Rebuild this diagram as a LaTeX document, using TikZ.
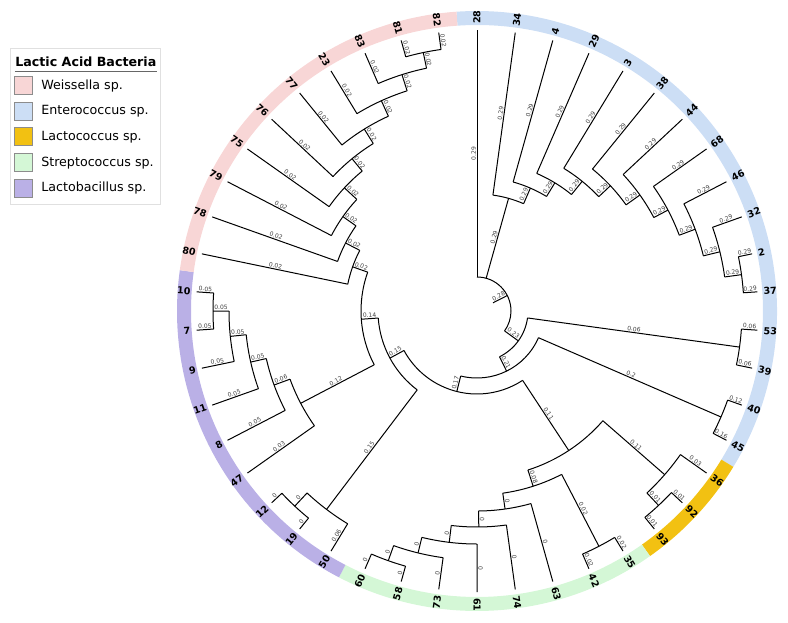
\documentclass[tikz,border=0pt]{standalone}
\usepackage{fontspec}
\setmainfont{DejaVu Sans}
\definecolor{wei}{RGB}{248,214,214}
\definecolor{ent}{RGB}{204,222,245}
\definecolor{lcc}{RGB}{242,193,18}
\definecolor{stc}{RGB}{212,247,214}
\definecolor{lba}{RGB}{186,176,230}
\tikzset{
  br/.style={line width=0.75pt, black},
  blab/.style={midway, sloped, above, font=\fontsize{4.5}{5}\selectfont, text=black!75, inner sep=0.5pt},
  leaf/.style={font=\fontsize{7.2}{8}\selectfont\bfseries, inner sep=0pt},
  legbox/.style={draw=black!45, line width=0.4pt, minimum size=13.5pt, inner sep=0pt},
  legtxt/.style={anchor=west, font=\fontsize{9.5}{11}\selectfont, inner sep=0pt}
}
\newcommand{\tbr}[4]{\draw[br] ({90-7.826*(#1)}:#2) -- node[blab]{#4} ({90-7.826*(#1)}:#3);}
\newcommand{\tarc}[3]{\draw[br] ({90-7.826*(#2)}:#1) arc[start angle={90-7.826*(#2)}, end angle={90-7.826*(#3)}, radius=#1];}
\newcommand{\tring}[3]{\fill[#1] ({90-7.826*(#2)}:286) arc[start angle={90-7.826*(#2)}, end angle={90-7.826*(#3)}, radius=286] -- ({90-7.826*(#3)}:300) arc[start angle={90-7.826*(#3)}, end angle={90-7.826*(#2)}, radius=300] -- cycle;}
\newcommand{\lfR}[2]{\node[leaf, anchor=west, rotate={90-7.826*(#1)}] (lf#2) at ({90-7.826*(#1)}:287) {#2};}
\newcommand{\lfL}[2]{\node[leaf, anchor=east, rotate={270-7.826*(#1)}] (lf#2) at ({90-7.826*(#1)}:287) {#2};}
\begin{document}
\begin{tikzpicture}[x=0.75pt, y=0.75pt]
\useasboundingbox (-477,-311) rectangle (311,311);
% ring
\tring{ent}{-0.5}{15.5}
\tring{lcc}{15.5}{18.5}
\tring{stc}{18.5}{26.5}
\tring{lba}{26.5}{35.5}
\tring{wei}{35.5}{45.5}
% root
\tbr{8.04}{18}{34}{0.28}
\tarc{34}{0}{16.08}
\tbr{0}{34}{281}{0.29}
% Enterococcus ladder
\tbr{2.0}{34}{117}{0.29}
\tarc{117}{1}{3.0}
\tbr{1}{117}{281}{0.29}
\tbr{3.0}{117}{134}{0.29}
\tarc{134}{2}{3.996}
\tbr{2}{134}{281}{0.29}
\tbr{3.996}{134}{150}{0.29}
\tarc{150}{3}{4.99}
\tbr{3}{150}{281}{0.29}
\tbr{4.99}{150}{167}{0.29}
\tarc{167}{4}{5.98}
\tbr{4}{167}{281}{0.29}
\tbr{5.98}{167}{183}{0.29}
\tarc{183}{5}{6.97}
\tbr{5}{183}{281}{0.29}
\tbr{6.97}{183}{200}{0.29}
\tarc{200}{6}{7.94}
\tbr{6}{200}{281}{0.29}
\tbr{7.94}{200}{216}{0.29}
\tarc{216}{7}{8.875}
\tbr{7}{216}{281}{0.29}
\tbr{8.875}{216}{233}{0.29}
\tarc{233}{8}{9.75}
\tbr{8}{233}{281}{0.29}
\tbr{9.75}{233}{250}{0.29}
\tarc{250}{9}{10.5}
\tbr{9}{250}{281}{0.29}
\tbr{10.5}{250}{267}{0.29}
\tarc{267}{10}{11}
\tbr{10}{267}{281}{0.29}
\tbr{11}{267}{281}{0.29}
% B
\tbr{16.08}{34}{51}{0.23}
\tarc{51}{12.5}{19.65}
\tbr{12.5}{51}{265}{0.06}
\tarc{265}{12}{13}
\tbr{12}{265}{281}{0.06}
\tbr{13}{265}{281}{0.06}
% C
\tbr{19.65}{51}{67}{0.21}
\tarc{67}{14.5}{24.8}
\tbr{14.5}{67}{266}{0.2}
\tarc{266}{14}{15}
\tbr{14}{266}{281}{0.12}
\tbr{15}{266}{281}{0.16}
% D
\tbr{24.8}{67}{83}{0.17}
\tarc{83}{18.74}{30.87}
% F
\tbr{18.74}{83}{167}{0.11}
\tarc{167}{16.75}{20.73}
\tbr{16.75}{167}{249}{0.11}
\tarc{249}{16}{17.5}
\tbr{16}{249}{281}{0.03}
\tbr{17.5}{249}{266}{0.01}
\tarc{266}{17}{18}
\tbr{17}{266}{281}{0.01}
\tbr{18}{266}{281}{0.01}
% S
\tbr{20.73}{167}{184}{0.08}
\tarc{184}{19.5}{21.97}
\tbr{19.5}{184}{265}{0.02}
\tarc{265}{19}{20}
\tbr{19}{265}{281}{0.02}
\tbr{20}{265}{281}{0.02}
\tbr{21.97}{184}{200}{0}
\tarc{200}{21}{22.94}
\tbr{21}{200}{281}{0}
\tbr{22.94}{200}{216}{0}
\tarc{216}{22}{23.875}
\tbr{22}{216}{281}{0}
\tbr{23.875}{216}{233}{0}
\tarc{233}{23}{24.75}
\tbr{23}{233}{281}{0}
\tbr{24.75}{233}{249}{0}
\tarc{249}{24}{25.5}
\tbr{24}{249}{281}{0}
\tbr{25.5}{249}{265}{0}
\tarc{265}{25}{26}
\tbr{25}{265}{281}{0}
\tbr{26}{265}{281}{0}
% G
\tbr{30.87}{83}{99}{0.15}
\tarc{99}{27.75}{33.98}
\tbr{27.75}{99}{249}{0.15}
\tarc{249}{27}{28.5}
\tbr{27}{249}{281}{0.06}
\tbr{28.5}{249}{267}{0}
\tarc{267}{28}{29}
\tbr{28}{267}{281}{0}
\tbr{29}{267}{281}{0}
% K
\tbr{33.98}{99}{116}{0.14}
\tarc{116}{30.97}{37.0}
% Lactobacillus
\tbr{30.97}{116}{199}{0.12}
\tarc{199}{30}{31.94}
\tbr{30}{199}{281}{0.03}
\tbr{31.94}{199}{216}{0.06}
\tarc{216}{31}{32.875}
\tbr{31}{216}{281}{0.05}
\tbr{32.875}{216}{232}{0.05}
\tarc{232}{32}{33.75}
\tbr{32}{232}{281}{0.05}
\tbr{33.75}{232}{248}{0.05}
\tarc{248}{33}{34.5}
\tbr{33}{248}{281}{0.05}
\tbr{34.5}{248}{264}{0.05}
\tarc{264}{34}{35}
\tbr{34}{264}{281}{0.05}
\tbr{35}{264}{281}{0.05}
% Weissella
\tbr{37.0}{116}{132}{0.02}
\tarc{132}{36}{37.996}
\tbr{36}{132}{281}{0.02}
\tbr{37.996}{132}{148}{0.02}
\tarc{148}{37}{38.99}
\tbr{37}{148}{281}{0.02}
\tbr{38.99}{148}{164}{0.02}
\tarc{164}{38}{39.98}
\tbr{38}{164}{281}{0.02}
\tbr{39.98}{164}{181}{0.02}
\tarc{181}{39}{40.97}
\tbr{39}{181}{281}{0.02}
\tbr{40.97}{181}{197}{0.02}
\tarc{197}{40}{41.94}
\tbr{40}{197}{281}{0.02}
\tbr{41.94}{197}{214}{0.02}
\tarc{214}{41}{42.875}
\tbr{41}{214}{281}{0.02}
\tbr{42.875}{214}{231}{0.02}
\tarc{231}{42}{43.75}
\tbr{42}{231}{281}{0.02}
\tbr{43.75}{231}{248}{0.02}
\tarc{248}{43}{44.5}
\tbr{43}{248}{281}{0.02}
\tbr{44.5}{248}{264}{0.02}
\tarc{264}{44}{45}
\tbr{44}{264}{281}{0.02}
\tbr{45}{264}{281}{0.02}
% leaf labels
\lfR{0}{28}\lfR{1}{34}\lfR{2}{4}\lfR{3}{29}\lfR{4}{3}\lfR{5}{38}\lfR{6}{44}\lfR{7}{68}
\lfR{8}{46}\lfR{9}{32}\lfR{10}{2}\lfR{11}{37}\lfR{12}{53}\lfR{13}{39}\lfR{14}{40}\lfR{15}{45}
\lfR{16}{36}\lfR{17}{92}\lfR{18}{93}\lfR{19}{35}\lfR{20}{42}\lfR{21}{63}\lfR{22}{74}\lfR{23}{61}
\lfL{24}{73}\lfL{25}{58}\lfL{26}{60}\lfL{27}{50}\lfL{28}{19}\lfL{29}{12}\lfL{30}{47}\lfL{31}{8}
\lfL{32}{11}\lfL{33}{9}\lfL{34}{7}\lfL{35}{10}\lfL{36}{80}\lfL{37}{78}\lfL{38}{79}\lfL{39}{75}
\lfL{40}{76}\lfL{41}{77}\lfL{42}{23}\lfL{43}{83}\lfL{44}{81}\lfL{45}{82}
% legend
\draw[draw=black!12, line width=0.5pt] (-467,262.7) rectangle (-316.3,107);
\node[anchor=west, font=\fontsize{9.5}{11}\selectfont\bfseries, inner sep=0pt] (legtitle) at (-462,249.5) {Lactic Acid Bacteria};
\draw[black!60, line width=0.6pt] (-462,239.5) -- (-320,239.5);
\node[legbox, fill=wei] (lgw) at (-454,225.3) {};
\node[legtxt] (lgwt) at (-436,225.3) {Weissella sp.};
\node[legbox, fill=ent] (lge) at (-454,200) {};
\node[legtxt] (lget) at (-436,200) {Enterococcus sp.};
\node[legbox, fill=lcc] (lgl) at (-454,174.3) {};
\node[legtxt] (lglt) at (-436,174.3) {Lactococcus sp.};
\node[legbox, fill=stc] (lgs) at (-454,148.3) {};
\node[legtxt] (lgst) at (-436,148.3) {Streptococcus sp.};
\node[legbox, fill=lba] (lgb) at (-454,122.7) {};
\node[legtxt] (lgbt) at (-436,122.7) {Lactobacillus sp.};
\end{tikzpicture}
\end{document}
